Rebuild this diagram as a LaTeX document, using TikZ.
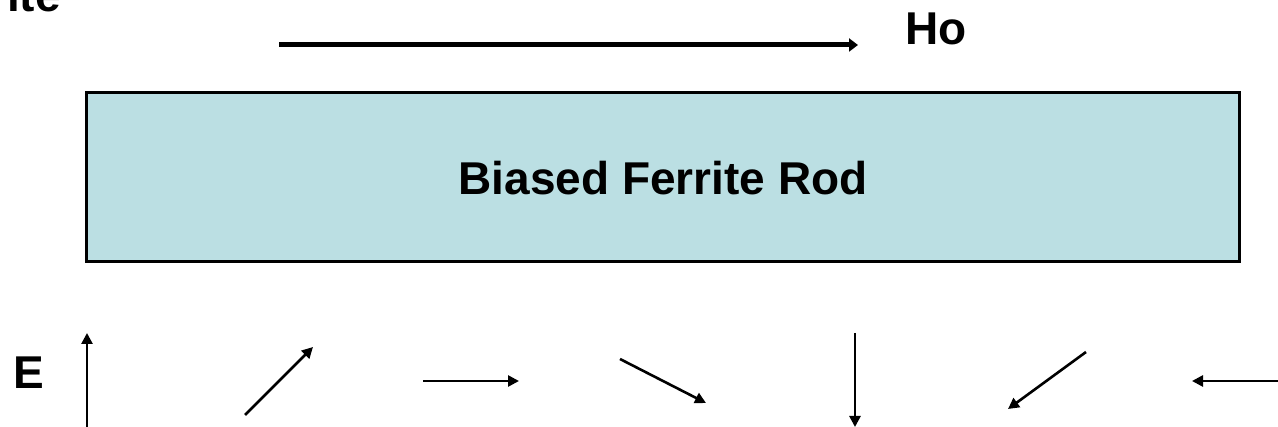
\documentclass[tikz,border=0pt]{standalone}
\usepackage{fontspec}
\setmainfont{Liberation Sans}
\usetikzlibrary{arrows.meta}
\definecolor{rodfill}{HTML}{BBDFE3}
\tikzset{
  lbl/.style={font=\fontsize{46}{54}\selectfont\bfseries, inner sep=0pt, anchor=base},
  earrow/.style={line width=2.6pt, -{Triangle[length=11pt,width=11pt]}},
  harrow/.style={line width=5pt, -{Triangle[length=9pt,width=13pt]}},
  rod/.style={draw=black, line width=3pt, fill=rodfill}
}
\begin{document}
\begin{tikzpicture}[x=1pt,y=-1pt]
\useasboundingbox (0,0) rectangle (1278,427);
\clip (0,0) rectangle (1278,427);
% partial label at top-left
\node[lbl, anchor=base west] (ite) at (7,12) {ite};
% bias field arrow
\coordinate (h0) at (279,45);
\coordinate (h1) at (858,45);
\draw[harrow] (h0) -- (h1);
\node[lbl, anchor=base west] (ho) at (905,45) {Ho};
% rod
\node[rod, minimum width=1153pt, minimum height=169pt, inner sep=0pt] (rodbox) at (662.5,177.5) {};
\node[lbl] (rodtxt) at (663,195) {Biased Ferrite Rod};
% E label
\node[lbl, anchor=base west] (e) at (13,389) {E};
% E field arrows
\coordinate (a1s) at (87,427); \coordinate (a1e) at (87,333);
\coordinate (a2s) at (245,415); \coordinate (a2e) at (313,347);
\coordinate (a3s) at (423,381); \coordinate (a3e) at (519,381);
\coordinate (a4s) at (620,359); \coordinate (a4e) at (706,403);
\coordinate (a5s) at (855,333); \coordinate (a5e) at (855,427);
\coordinate (a6s) at (1086,352); \coordinate (a6e) at (1008,409);
\coordinate (a7s) at (1280,381); \coordinate (a7e) at (1192,381);
\foreach \i in {1,...,7} {\draw[earrow] (a\i s) -- (a\i e);}
\end{tikzpicture}
\end{document}
